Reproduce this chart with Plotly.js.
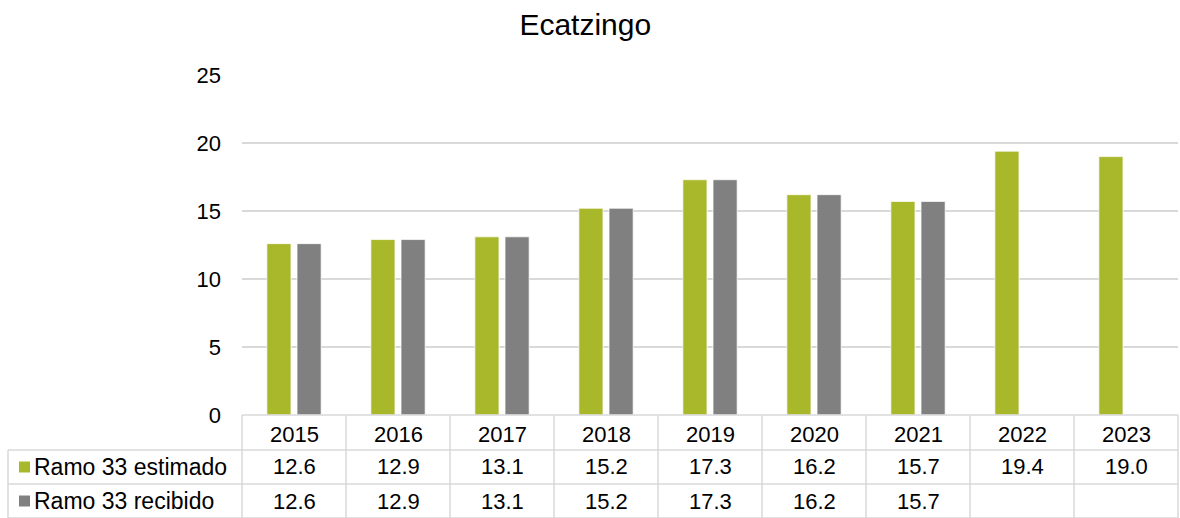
<!DOCTYPE html>
<html>
<head>
<meta charset="utf-8">
<script src="https://cdn.plot.ly/plotly-3.0.1.min.js"></script>
<style>html,body{margin:0;padding:0;background:#fff}#chart{width:1180px;height:518px}</style>
</head>
<body>
<div id="chart"></div>
<script>
const title = "Ecatzingo";
const years = ["2015","2016","2017","2018","2019","2020","2021","2022","2023"];
const seriesNames = ["Ramo 33 estimado", "Ramo 33 recibido"];
const estimado = [12.6, 12.9, 13.1, 15.2, 17.3, 16.2, 15.7, 19.4, 19.0];
const recibido = [12.6, 12.9, 13.1, 15.2, 17.3, 16.2, 15.7, null, null];
const colors = ["#A9B82B", "#808080"];

const FONT = "Liberation Sans, Arial, sans-serif";
const FS = 22;
const gridColor = "#D9D9D9";

const traces = [estimado, recibido].map((vals, i) => ({
  type: "bar",
  name: seriesNames[i],
  x: years,
  y: vals,
  marker: {color: colors[i], line: {color: "rgba(255,255,255,0.7)", width: 1}},
  hoverinfo: "x+y",
  showlegend: false
}));

// table geometry (paper coords)
const plotTopPx = 75, plotBotPx = 415, plotLeftPx = 242, plotRightPx = 1178;
const ph = plotBotPx - plotTopPx, pw = plotRightPx - plotLeftPx;
const py = Y => (plotBotPx - Y) / ph;
const pxx = X => (X - plotLeftPx) / pw;
const rowLines = [415, 450, 484, 518];
const rowCenters = [434, 467, 501];
const leftX = pxx(8);

const shapes = [];
const lineStyle = {color: gridColor, width: 1.5};
shapes.push({type: "line", xref: "paper", yref: "paper", x0: 0, x1: 1, y0: py(rowLines[0]), y1: py(rowLines[0]), line: lineStyle});
for (let r = 1; r < rowLines.length; r++) {
  shapes.push({type: "line", xref: "paper", yref: "paper", x0: leftX, x1: 1, y0: py(rowLines[r]), y1: py(rowLines[r]), line: lineStyle});
}
shapes.push({type: "line", xref: "paper", yref: "paper", x0: leftX, x1: leftX, y0: py(rowLines[1]), y1: py(rowLines[3]), line: lineStyle});
for (let i = 0; i <= years.length; i++) {
  const xp = i / years.length;
  shapes.push({type: "line", xref: "paper", yref: "paper", x0: xp, x1: xp, y0: py(rowLines[0]), y1: py(rowLines[3]), line: lineStyle});
}
// legend keys in table
seriesNames.forEach((nm, s) => {
  const c = rowCenters[s + 1];
  shapes.push({type: "rect", xref: "paper", yref: "paper", x0: pxx(19), x1: pxx(30), y0: py(c + 5.5), y1: py(c - 5.5),
    fillcolor: colors[s], line: {width: 0}});
});

const annotations = [];
years.forEach((yr, i) => {
  annotations.push({xref: "x", yref: "paper", x: i, y: py(rowCenters[0]), text: yr, showarrow: false, yanchor: "middle", font: {family: FONT, size: FS, color: "#000"}});
  [estimado, recibido].forEach((vals, s) => {
    if (vals[i] !== null && vals[i] !== undefined) {
      annotations.push({xref: "x", yref: "paper", x: i, y: py(rowCenters[s + 1]), text: vals[i].toFixed(1), showarrow: false, yanchor: "middle", font: {family: FONT, size: FS, color: "#000"}});
    }
  });
});
seriesNames.forEach((nm, s) => {
  annotations.push({xref: "paper", yref: "paper", x: pxx(32), xanchor: "left", y: py(rowCenters[s + 1]), yanchor: "middle",
    text: nm, showarrow: false, font: {family: FONT, size: 23, color: "#000"}});
});

const layout = {
  width: 1180, height: 518,
  margin: {l: plotLeftPx, r: 1180 - plotRightPx, t: plotTopPx, b: 518 - plotBotPx, pad: 0},
  paper_bgcolor: "#fff", plot_bgcolor: "#fff",
  title: {text: title, font: {family: FONT, size: 30, color: "#000"}, xref: "container", x: 0.496, xanchor: "center", yref: "container", y: 1 - 24 / 518, yanchor: "middle"},
  barmode: "group",
  bargap: 0.42,
  bargroupgap: 0.2,
  xaxis: {type: "category", range: [-0.5, years.length - 0.5], showticklabels: false, ticks: "", showgrid: false, zeroline: false, showline: false, fixedrange: true},
  yaxis: {range: [0, 25], dtick: 5, tick0: 0, showgrid: true, gridcolor: gridColor, gridwidth: 1.5, zeroline: false, showline: false, ticks: "",
    ticklabelstandoff: 20, tickfont: {family: FONT, size: FS, color: "#000"}, fixedrange: true},
  shapes: shapes,
  annotations: annotations,
  showlegend: false,
  font: {family: FONT}
};

Plotly.newPlot("chart", traces, layout, {displayModeBar: false, staticPlot: true});
</script>
</body>
</html>
